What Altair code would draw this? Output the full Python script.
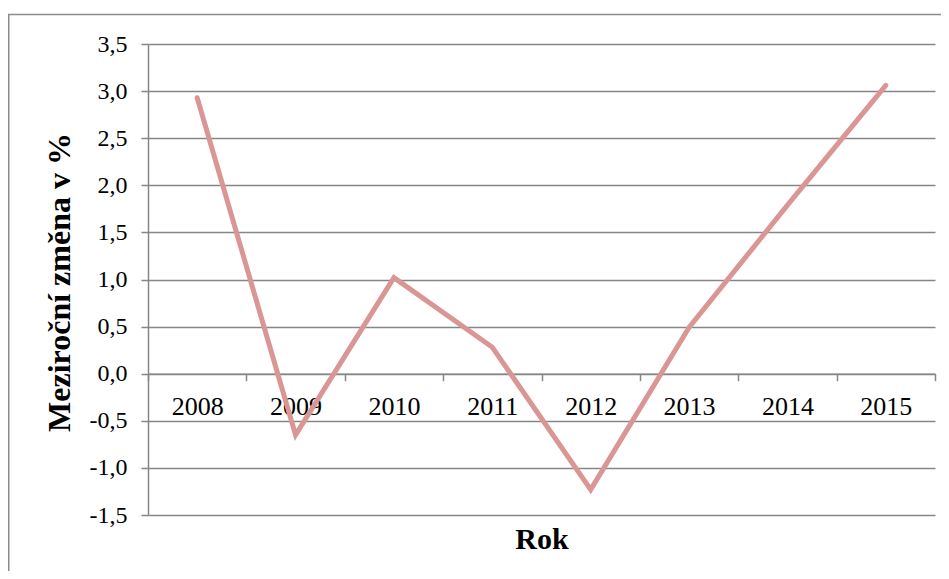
import altair as alt
import pandas as pd

years = ["2008", "2009", "2010", "2011", "2012", "2013", "2014", "2015"]
values = [2.93, -0.65, 1.02, 0.28, -1.23, 0.49, 1.79, 3.06]
y_ticks = [-1.5, -1.0, -0.5, 0.0, 0.5, 1.0, 1.5, 2.0, 2.5, 3.0, 3.5]

df = pd.DataFrame({"year": years, "value": values})

W, H = 787, 471
GRAY = "#868686"
FONT = "Liberation Serif"

line = alt.Chart(df).mark_line(
    color="#D99694", strokeWidth=5, strokeCap="round"
).encode(
    x=alt.X(
        "year:O",
        bandPosition=0.5,
        scale=alt.Scale(type="band", paddingInner=0, paddingOuter=0),
        axis=alt.Axis(
            title="Rok",
            titleFont=FONT, titleFontSize=30, titleFontWeight="bold", titleColor="black",
            titleX=W / 2, titleY=175, titleBaseline="alphabetic", titleAlign="center",
            labelFont=FONT, labelFontSize=26, labelColor="black", labelAngle=0,
            labelPadding=13,
            offset=-H * 0.3,
            tickBand="extent", tickSize=7, tickColor=GRAY, tickWidth=1.5,
            domainColor=GRAY, domainWidth=1.5,
            grid=False,
        ),
    ),
    y=alt.Y(
        "value:Q",
        scale=alt.Scale(domain=[-1.5, 3.5], nice=False, zero=False),
        axis=alt.Axis(
            title="Meziroční změna v %",
            titleFont=FONT, titleFontSize=32, titleFontWeight="bold", titleColor="black",
            titleAngle=-90, titleX=-79, titleY=238, titleBaseline="alphabetic",
            titleAlign="center",
            values=y_ticks,
            labelExpr="replace(replace(format(datum.value, '.1f'), '.', ','), '\u2212', '-')",
            labelFont=FONT, labelFontSize=24, labelColor="black", labelPadding=14,
            tickSize=7, tickColor=GRAY, tickWidth=1.5,
            domainColor=GRAY, domainWidth=1.5,
            grid=True, gridColor=GRAY, gridWidth=1.5,
        ),
    ),
)

border = alt.Chart(pd.DataFrame({"a": [0]})).mark_rect(
    fill=None, stroke="#8C8C8C", strokeWidth=1.5
).encode(
    x=alt.value(-139.25), x2=alt.value(W + 40),
    y=alt.value(-29.5), y2=alt.value(H + 120),
)

chart = alt.layer(border, line).properties(
    width=W, height=H,
    autosize=alt.AutoSizeParams(type="none"),
    padding={"left": 140, "top": 36, "right": 6, "bottom": 56},
    background="white",
).configure_view(strokeWidth=0)

chart.save("out.html", embed_options={"renderer": "svg", "actions": False})
